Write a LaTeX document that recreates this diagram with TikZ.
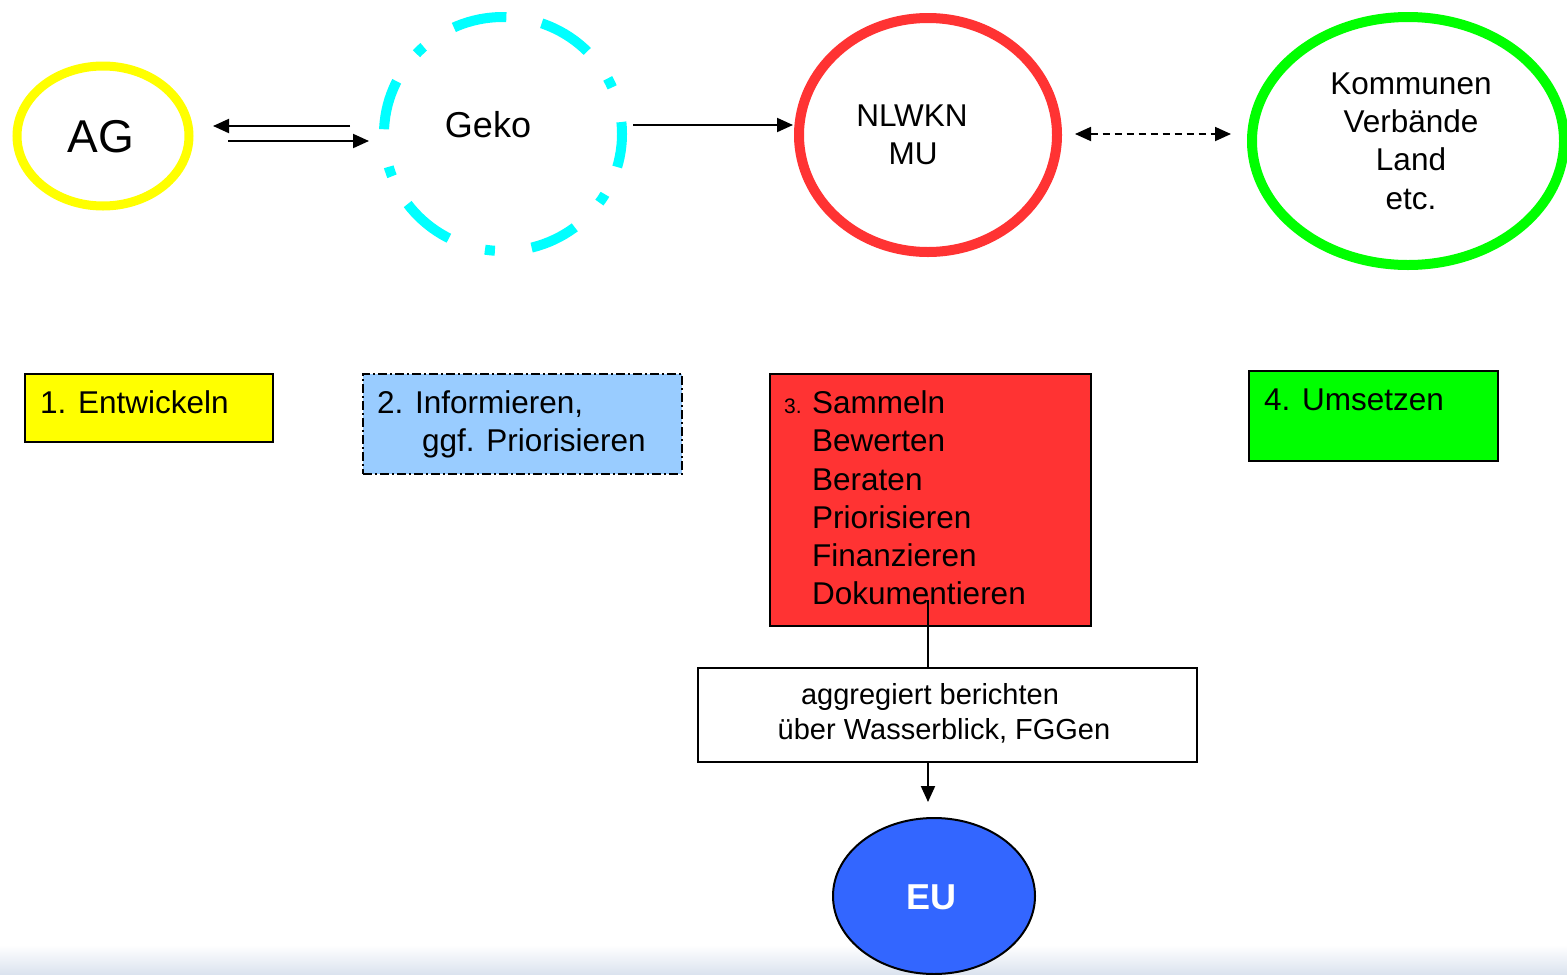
\documentclass[tikz,border=0pt]{standalone}
\usepackage{fontspec}
\setmainfont{Liberation Sans}
\usetikzlibrary{shapes.geometric,arrows.meta}
\definecolor{agyellow}{HTML}{FFFF00}
\definecolor{gekocyan}{HTML}{00FFFF}
\definecolor{nlred}{HTML}{FF3333}
\definecolor{kgreen}{HTML}{00FF00}
\definecolor{boxblue}{HTML}{99CCFF}
\definecolor{eublue}{HTML}{3366FF}
\definecolor{shadebot}{RGB}{218,226,238}
\tikzset{
  oval/.style={ellipse, inner sep=0pt, line width=9pt},
  stagebox/.style={rectangle, draw=black, line width=1.5pt, inner sep=0pt, anchor=north west},
  lbl/.style={anchor=base west, inner sep=0pt, font=\fontsize{31.5}{38}\selectfont},
  ctr/.style={anchor=base, inner sep=0pt, font=\fontsize{31.5}{38}\selectfont},
  conn/.style={draw=black, line width=2pt, -{Triangle[length=16pt,width=14pt]}},
}
\begin{document}
\begin{tikzpicture}[x=1pt,y=-1pt]
\clip (0,0) rectangle (1567,975);
\fill[white] (0,0) rectangle (1567,975);
\shade[top color=white, bottom color=shadebot] (0,945) rectangle (1567,975);

% top ellipses
\node[oval, draw=agyellow, minimum width=172pt, minimum height=140pt] (AG) at (103,136) {};
\node[oval, draw=gekocyan, line width=10pt, minimum width=238pt, minimum height=234pt,
      dash pattern=on 12pt off 36pt on 10pt off 34pt on 54pt off 36pt on 54pt off 36pt on 10pt off 34pt on 50pt off 38pt on 10pt off 32pt on 54pt off 38pt on 10pt off 37pt on 48pt off 35pt on 10pt off 30pt on 40pt off 10pt] (Geko) at (503,134) {};
\node[oval, draw=nlred, line width=10pt, minimum width=258pt, minimum height=234pt] (NL) at (928,135) {};
\node[oval, draw=kgreen, line width=10pt, minimum width=312pt, minimum height=248pt] (KV) at (1408,141) {};

\node[anchor=base, inner sep=0pt, font=\fontsize{46}{50}\selectfont] (tAG) at (101,152) {AG};
\node[anchor=base, inner sep=0pt, font=\fontsize{36}{40}\selectfont] (tGeko) at (488,137) {Geko};
\node[ctr] (tNL1) at (912,126) {NLWKN};
\node[ctr] (tNL2) at (913,164) {MU};
\node[ctr] (tKV1) at (1411,94) {Kommunen};
\node[ctr] (tKV2) at (1411,132) {Verbände};
\node[ctr] (tKV3) at (1411,170) {Land};
\node[ctr] (tKV4) at (1411,209) {etc.};

% connectors at the top
\coordinate (a1) at (350,126);
\coordinate (a2) at (213,126);
\coordinate (b1) at (228,141);
\coordinate (b2) at (369,141);
\draw[conn] (a1) -- (a2);
\draw[conn] (b1) -- (b2);
\coordinate (g1) at (633,125);
\coordinate (g2) at (793,125);
\draw[conn] (g1) -- (g2);
\coordinate (d1) at (1075,134);
\coordinate (d2) at (1231,134);
\draw[line width=1.8pt, dash pattern=on 7pt off 5pt, {Triangle[length=16pt,width=14pt]}-{Triangle[length=16pt,width=14pt]}] (d1) -- (d2);

% stage boxes
\node[stagebox, fill=agyellow, minimum width=248pt, minimum height=68pt] (B1) at (24,373) {};
\node[lbl] at (40,413) {1. Entwickeln};

\node[stagebox, fill=boxblue, dash pattern=on 9pt off 3pt on 2pt off 3pt, minimum width=319pt, minimum height=100pt] (B2) at (362,373) {};
\node[lbl] at (377,413) {2. Informieren,};
\node[lbl] at (422,451) {ggf. Priorisieren};

\node[stagebox, fill=nlred, minimum width=321pt, minimum height=252pt] (B3) at (769,373) {};
\node[anchor=base west, inner sep=0pt, font=\fontsize{21}{24}\selectfont] at (784,413) {3.};
\node[lbl] at (812,413) {Sammeln};
\node[lbl] at (812,451) {Bewerten};
\node[lbl] at (812,490) {Beraten};
\node[lbl] at (812,528) {Priorisieren};
\node[lbl] at (812,566) {Finanzieren};
\node[lbl] at (812,604) {Dokumentieren};

\node[stagebox, fill=kgreen, minimum width=249pt, minimum height=90pt] (B4) at (1248,370) {};
\node[lbl] at (1264,410) {4. Umsetzen};

% report box
\node[stagebox, fill=white, minimum width=499pt, minimum height=94pt] (B5) at (697,667) {};
\node[anchor=base, inner sep=0pt, font=\fontsize{29}{34}\selectfont] at (930,704) {aggregiert berichten};
\node[anchor=base, inner sep=0pt, font=\fontsize{29}{34}\selectfont] at (944,739) {über Wasserblick, FGGen};

\coordinate (c3) at (928,600);
\draw[line width=2pt] (c3) -- (c3 |- B5.north);

% EU
\node[ellipse, inner sep=0pt, draw=black, line width=2pt, fill=eublue, minimum width=202pt, minimum height=156pt] (EU) at (934,896) {};
\node[anchor=base, inner sep=0pt, text=white, font=\fontsize{36}{40}\selectfont\bfseries] at (931,909) {EU};
\coordinate (e1) at (928,802);
\draw[conn] (c3 |- B5.south) -- (e1);
\end{tikzpicture}
\end{document}
